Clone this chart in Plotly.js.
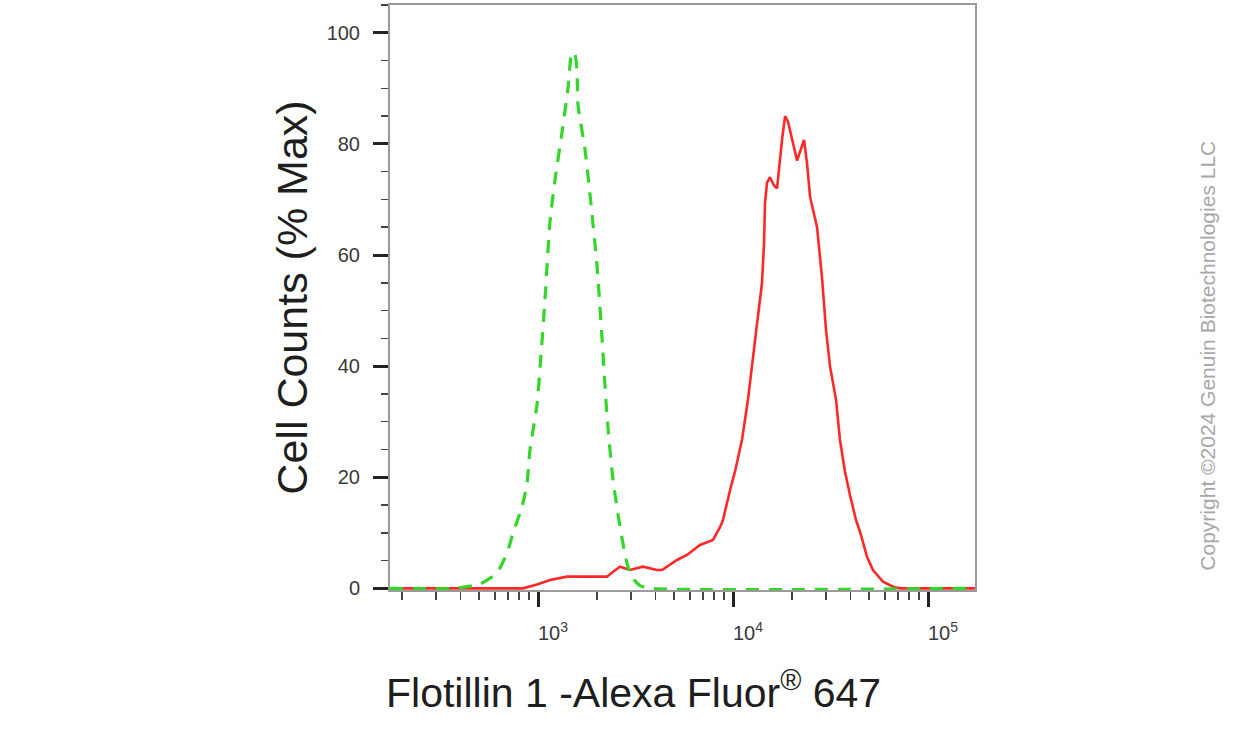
<!DOCTYPE html>
<html>
<head>
<meta charset="utf-8">
<script src="https://cdn.plot.ly/plotly-3.0.1.min.js"></script>
<style>
html,body{margin:0;padding:0;background:#fff;}
#chart{width:1246px;height:730px;}
</style>
</head>
<body>
<div id="chart"></div>
<script>
// Flotillin 1 (Alexa Fluor 647) sample — red solid line
var sampleIntensity = [174, 838, 988, 1152, 1409, 1848, 2259, 2425, 2635, 2965, 3453, 4074, 4322, 5164, 5807, 6771, 7895, 8577, 8885, 9659, 10236, 11117, 11939, 12509, 13118, 13745, 14085, 14420, 14590, 14940, 15480, 16220, 16820, 17840, 18490, 19160, 21290, 23130, 23960, 24830, 26980, 28590, 29990, 31430, 33740, 35370, 37520, 39800, 42740, 45310, 48630, 52220, 58780, 66180, 71820, 174000];
var sampleCounts    = [0, 0, 0.7, 1.5, 2.1, 2.1, 2.1, 3.0, 3.9, 3.3, 3.9, 3.3, 3.3, 5.1, 6.0, 7.8, 8.7, 11, 12.3, 17.7, 21, 26.7, 34, 40, 46.5, 52, 55, 62, 69.4, 73, 74, 72.5, 72, 80.7, 85, 84, 77, 80.7, 76.6, 70.5, 65, 56, 46.5, 40, 34, 26.7, 21, 16.8, 12.3, 9.6, 5.7, 3.3, 1.2, 0.3, 0, 0];

// Isotype control — green dashed line
var controlIntensity = [174, 375, 505, 616, 694, 745, 828, 879, 910, 988, 1036, 1086, 1152, 1222, 1327, 1425, 1494, 1548, 1585, 1604, 1742, 1871, 2008, 2130, 2259, 2425, 2635, 2860, 3034, 3333, 3750, 174000];
var controlCounts    = [0, 0, 0.8, 2.8, 6.4, 10, 14.7, 19, 25, 33, 42, 52, 66, 73.5, 82, 90, 96.5, 96, 93, 87, 79, 69, 58, 45, 31, 19.5, 11, 4.5, 2, 0.5, 0, 0];

// Axis ticks
var xMajorTicks = [1e3, 1e4, 1e5];
var xMajorLabels = ['10<sup>3</sup>', '10<sup>4</sup>', '10<sup>5</sup>'];
var xMinorTicks = [200, 300, 400, 500, 600, 700, 800, 900, 2000, 3000, 4000, 5000, 6000, 7000, 8000, 9000, 20000, 30000, 40000, 50000, 60000, 70000, 80000, 90000];
var yMajorTicks = [0, 20, 40, 60, 80, 100];
var yMinorTicks = [5, 10, 15, 25, 30, 35, 45, 50, 55, 65, 70, 75, 85, 90, 95, 105];

var xTitle = 'Flotillin 1 -Alexa Fluor<sup>®</sup> 647';
var yTitle = 'Cell Counts (% Max)';
var copyrightText = 'Copyright ©2024 Genuin Biotechnologies LLC';

var traces = [
  {
    x: sampleIntensity, y: sampleCounts, type: 'scatter', mode: 'lines',
    line: {color: 'rgb(255,40,40)', width: 2.6, shape: 'linear'},
    hoverinfo: 'skip', showlegend: false
  },
  {
    x: controlIntensity, y: controlCounts, type: 'scatter', mode: 'lines',
    line: {color: 'rgb(50,215,40)', width: 3.2, dash: '13px,10px', shape: 'spline', smoothing: 0.6},
    hoverinfo: 'skip', showlegend: false
  }
];

var font = 'Liberation Sans, Arial, Helvetica, sans-serif';

var layout = {
  width: 1246, height: 730,
  margin: {l: 390, r: 271, t: 5, b: 140},
  paper_bgcolor: '#ffffff', plot_bgcolor: '#ffffff',
  font: {family: font},
  showlegend: false,
  xaxis: {
    type: 'log', range: [2.241, 5.241],
    showgrid: false, zeroline: false,
    showline: true, linecolor: '#9a9a9a', linewidth: 2, mirror: true,
    ticks: 'outside', tickmode: 'array', tickvals: xMajorTicks, ticktext: xMajorLabels,
    ticklen: 15, tickwidth: 3, tickcolor: '#222',
    tickfont: {size: 20, color: '#3a3a3a', family: font},
    ticklabelshift: 15, ticklabelstandoff: 9,
    minor: {tickmode: 'array', tickvals: xMinorTicks, ticks: 'outside', ticklen: 8, tickwidth: 1.6, tickcolor: '#444', showgrid: false}
  },
  yaxis: {
    range: [-0.3, 105],
    showgrid: false, zeroline: false,
    showline: true, linecolor: '#9a9a9a', linewidth: 2, mirror: true,
    ticks: 'outside', tickmode: 'array', tickvals: yMajorTicks,
    ticklen: 15, tickwidth: 3, tickcolor: '#222',
    tickfont: {size: 20, color: '#3a3a3a', family: font},
    ticklabelstandoff: 9,
    minor: {tickmode: 'array', tickvals: yMinorTicks, ticks: 'outside', ticklen: 7, tickwidth: 1.6, tickcolor: '#444', showgrid: false},
    title: {text: yTitle, font: {size: 43, color: '#1e1e1e', family: font}, standoff: 6}
  },
  annotations: [
    {
      text: xTitle, xref: 'paper', yref: 'paper', x: 0.417, y: -0.171,
      xanchor: 'center', yanchor: 'middle', showarrow: false,
      font: {size: 41, color: '#1e1e1e', family: font}
    },
    {
      text: copyrightText, xref: 'paper', yref: 'paper', x: 1.396, y: 0.4,
      xanchor: 'center', yanchor: 'middle', showarrow: false, textangle: -90,
      font: {size: 21, color: '#a8a8a8', family: font}
    }
  ]
};

Plotly.newPlot('chart', traces, layout, {displayModeBar: false, staticPlot: true});
</script>
</body>
</html>
